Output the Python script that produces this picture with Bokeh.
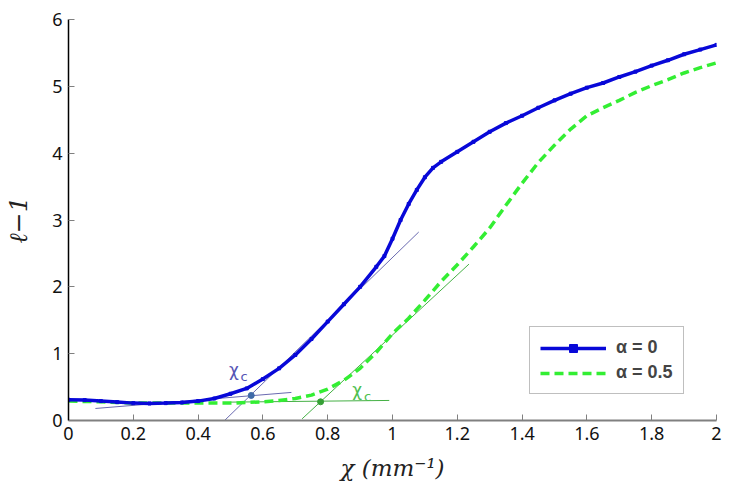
from bokeh.plotting import figure
from bokeh.models import Range1d, FixedTicker, Legend, LegendItem
from bokeh.core.properties import value
from bokeh.embed import file_html
from bokeh.resources import INLINE

# ---------------- data ----------------
blue_x = [0.00, 0.05, 0.10, 0.15, 0.20, 0.25, 0.30, 0.35, 0.40, 0.45, 0.50, 0.55,
          0.60, 0.65, 0.70, 0.75, 0.80, 0.85, 0.90, 0.95, 0.975, 1.00, 1.025, 1.05,
          1.075, 1.10, 1.125, 1.15, 1.20, 1.25, 1.30, 1.35, 1.40, 1.45, 1.50, 1.55,
          1.60, 1.65, 1.70, 1.75, 1.80, 1.85, 1.90, 1.95, 2.00]
blue_y = [0.31, 0.305, 0.29, 0.275, 0.26, 0.255, 0.26, 0.27, 0.29, 0.33, 0.40, 0.48,
          0.62, 0.78, 0.98, 1.22, 1.48, 1.74, 2.00, 2.30, 2.46, 2.72, 3.00, 3.24,
          3.45, 3.64, 3.78, 3.87, 4.02, 4.17, 4.32, 4.45, 4.56, 4.68, 4.79, 4.89,
          4.98, 5.05, 5.14, 5.22, 5.31, 5.39, 5.48, 5.55, 5.62]

green_x = [0.00, 0.10, 0.20, 0.30, 0.40, 0.50, 0.60, 0.65, 0.70, 0.75, 0.80, 0.85,
           0.90, 0.95, 1.00, 1.05, 1.10, 1.15, 1.20, 1.25, 1.30, 1.35, 1.40, 1.45,
           1.50, 1.55, 1.60, 1.65, 1.70, 1.75, 1.80, 1.85, 1.90, 1.95, 2.00]
green_y = [0.29, 0.28, 0.26, 0.26, 0.26, 0.26, 0.28, 0.30, 0.33, 0.38, 0.47, 0.60,
           0.78, 1.02, 1.30, 1.53, 1.80, 2.08, 2.33, 2.60, 2.88, 3.22, 3.55, 3.86,
           4.12, 4.36, 4.56, 4.68, 4.79, 4.91, 5.01, 5.10, 5.20, 5.28, 5.35]

# tangent construction lines
blue_tan_x = [0.454, 1.081]
blue_tan_y = [-0.13, 2.82]
blue_base_x = [0.083, 0.688]
blue_base_y = [0.18, 0.42]
green_tan_x = [0.721, 1.236]
green_tan_y = [0.025, 2.34]
green_base_x = [0.50, 0.99]
green_base_y = [0.275, 0.30]

# critical points
chi_c_blue = (0.564, 0.375)
chi_c_green = (0.778, 0.28)

x_ticks = [0, 0.2, 0.4, 0.6, 0.8, 1.0, 1.2, 1.4, 1.6, 1.8, 2.0]
x_tick_labels = ["0", "0.2", "0.4", "0.6", "0.8", "1", "1.2", "1.4", "1.6", "1.8", "2"]
y_ticks = [0, 1, 2, 3, 4, 5, 6]
y_tick_labels = ["0", "1", "2", "3", "4", "5", "6"]

legend_labels = ["α = 0", "α = 0.5"]

BLUE = "#0808d8"
GREEN = "#33ee33"

# ---------------- figure ----------------
p = figure(frame_width=648, frame_height=401,
           min_border_left=68, min_border_right=18, min_border_top=19, min_border_bottom=64,
           x_range=Range1d(0, 2), y_range=Range1d(0, 6),
           output_backend="svg", toolbar_location=None,
           background_fill_color="white", border_fill_color="white")
p.outline_line_color = None
p.xgrid.visible = False
p.ygrid.visible = False

# construction lines
p.line(blue_tan_x, blue_tan_y, line_color="#6a6ab0", line_width=1)
p.line(blue_base_x, blue_base_y, line_color="#6a6ab0", line_width=1)
p.line(green_tan_x, green_tan_y, line_color="#45b045", line_width=1)
p.line(green_base_x, green_base_y, line_color="#45b045", line_width=1)

# curves
g_line = p.line(green_x, green_y, line_color=GREEN, line_width=3.5, line_dash="9 5")
b_line = p.line(blue_x, blue_y, line_color=BLUE, line_width=3.5)
b_mark = p.scatter(blue_x, blue_y, marker="square", size=3, fill_color=BLUE, line_color=BLUE)

# critical points
p.scatter([chi_c_blue[0]], [chi_c_blue[1]], size=6, fill_color="#3f6aa8", line_color="#3f6aa8")
p.scatter([chi_c_green[0]], [chi_c_green[1]], size=6, fill_color="#35a035", line_color="#35a035")

# chi_c labels
p.text(x=[0.495], y=[0.76], text=["χ"], text_color="#5555b5",
       text_font=value("DejaVu Sans"), text_font_size="17px", text_baseline="alphabetic")
p.text(x=[0.531], y=[0.66], text=["c"], text_color="#5555b5",
       text_font=value("DejaVu Sans"), text_font_size="13px", text_baseline="alphabetic")
p.text(x=[0.876], y=[0.46], text=["χ"], text_color="#4fc04f",
       text_font=value("DejaVu Sans"), text_font_size="17px", text_baseline="alphabetic")
p.text(x=[0.912], y=[0.36], text=["c"], text_color="#4fc04f",
       text_font=value("DejaVu Sans"), text_font_size="13px", text_baseline="alphabetic")

# axes
for ax in (p.xaxis[0], p.yaxis[0]):
    ax.major_tick_in = 6
    ax.major_tick_out = 0
    ax.minor_tick_in = 0
    ax.minor_tick_out = 0
    ax.major_tick_line_color = "#808080"
    ax.major_label_text_font = "Noto Sans"
    ax.major_label_text_font_size = "18px"
    ax.major_label_text_color = "#111111"
    ax.axis_label_text_font_style = "italic"
    ax.axis_label_text_color = "#222222"

p.xaxis.ticker = FixedTicker(ticks=x_ticks)
p.xaxis.major_label_overrides = {t: l for t, l in zip(x_ticks, x_tick_labels)}
p.yaxis.ticker = FixedTicker(ticks=y_ticks)
p.yaxis.major_label_overrides = {t: l for t, l in zip(y_ticks, y_tick_labels)}

p.xaxis.axis_line_color = "#808080"
p.xaxis.axis_line_width = 2
p.yaxis.axis_line_color = "#000000"
p.yaxis.axis_line_width = 1.5

p.xaxis.axis_label = "χ (mm⁻¹)"
p.xaxis.axis_label_text_font = "DejaVu Serif"
p.xaxis.axis_label_text_font_size = "23px"
p.xaxis.axis_label_standoff = 12
p.xaxis.major_label_standoff = 6

p.yaxis.axis_label = "ℓ−1"
p.yaxis.axis_label_text_font = "DejaVu Serif"
p.yaxis.axis_label_text_font_size = "25px"
p.yaxis.axis_label_standoff = 16
p.yaxis.major_label_standoff = 6

# legend
legend = Legend(items=[LegendItem(label=legend_labels[0], renderers=[b_line, b_mark]),
                       LegendItem(label=legend_labels[1], renderers=[g_line])],
                location=(461, 26))
legend.margin = 0
legend.border_line_color = "#808080"
legend.border_line_width = 1.5
legend.background_fill_color = "white"
legend.background_fill_alpha = 1
legend.label_text_font = "Liberation Sans"
legend.label_text_font_style = "bold"
legend.label_text_font_size = "18px"
legend.glyph_width = 66
legend.label_standoff = 10
legend.padding = 10
legend.spacing = 4
p.add_layout(legend)

open("out.html", "w").write(file_html(p, INLINE))
